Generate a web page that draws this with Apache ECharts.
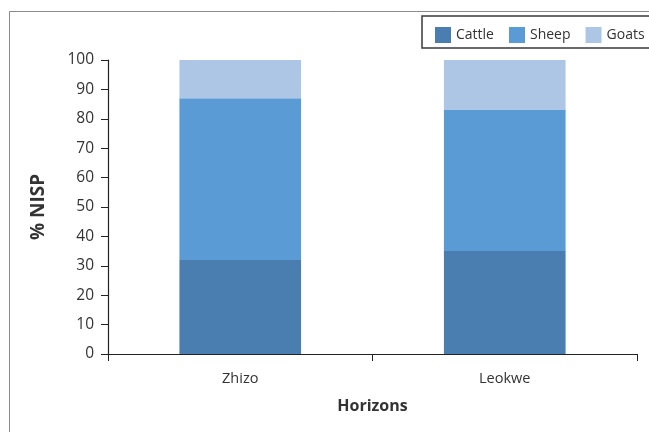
<!DOCTYPE html>
<html>
<head>
<meta charset="utf-8">
<script src="https://cdn.jsdelivr.net/npm/echarts@6/dist/echarts.min.js"></script>
<style>
  html, body { margin: 0; padding: 0; background: #fff; }
  #chart { width: 649px; height: 432px; }
</style>
</head>
<body>
<div id="chart"></div>
<script>
// Faunal composition per horizon (% NISP)
const horizons = ['Zhizo', 'Leokwe'];
const cattle = [32, 35];
const sheep = [55, 48];
const goats = [13, 17];
const yTicks = [0, 10, 20, 30, 40, 50, 60, 70, 80, 90, 100];

const FONT = '"Open Sans", "Noto Sans", sans-serif';
const TXT = '#333333';

const chart = echarts.init(document.getElementById('chart'), null, { renderer: 'canvas' });

function bar(name, data, color) {
  return {
    name: name,
    type: 'bar',
    stack: 'nisp',
    data: data,
    barWidth: '46%',
    itemStyle: { color: color },
    emphasis: { disabled: true }
  };
}

chart.setOption({
  animation: false,
  backgroundColor: '#ffffff',
  textStyle: { fontFamily: FONT },
  graphic: [
    {
      type: 'rect',
      shape: { x: 9.5, y: 11.5, width: 700, height: 500 },
      style: { fill: 'none', stroke: '#8a8a8a', lineWidth: 1 },
      z: -1
    },
    {
      type: 'rect',
      shape: { x: 422, y: 16, width: 300, height: 32 },
      style: { fill: '#ffffff', stroke: '#3a3a3a', lineWidth: 1.5 },
      z: 0
    }
  ],
  legend: {
    data: ['Cattle', 'Sheep', 'Goats'],
    orient: 'horizontal',
    left: 430,
    top: 22,
    width: 400,
    itemWidth: 16,
    itemHeight: 16,
    itemGap: 15,
    icon: 'rect',
    textStyle: { fontFamily: FONT, fontSize: 14, color: TXT },
    z: 5
  },
  grid: { left: 108, right: 12, top: 60, bottom: 78 },
  xAxis: {
    type: 'category',
    data: horizons,
    name: 'Horizons',
    nameLocation: 'middle',
    nameGap: 44,
    nameTextStyle: { fontFamily: FONT, fontSize: 16, fontWeight: 'bold', color: TXT },
    axisLine: { lineStyle: { color: '#222', width: 1.2 } },
    axisTick: { show: true, length: 7, alignWithLabel: false, lineStyle: { color: '#222' } },
    axisLabel: { fontFamily: FONT, fontSize: 14.5, color: TXT, margin: 17 }
  },
  yAxis: {
    type: 'value',
    min: yTicks[0],
    max: yTicks[yTicks.length - 1],
    interval: 10,
    name: '% NISP',
    nameLocation: 'middle',
    nameGap: 60,
    nameRotate: 90,
    nameTextStyle: { fontFamily: FONT, fontSize: 19, fontWeight: 'bold', color: TXT },
    axisLine: { show: true, lineStyle: { color: '#222', width: 1.2 } },
    axisTick: { show: true, length: 7, lineStyle: { color: '#222' } },
    axisLabel: { fontFamily: FONT, fontSize: 15.5, color: TXT, margin: 14 },
    splitLine: { show: false }
  },
  series: [
    bar('Cattle', cattle, '#4A7EB0'),
    bar('Sheep', sheep, '#5B9BD5'),
    bar('Goats', goats, '#ADC6E5')
  ]
});
</script>
</body>
</html>
